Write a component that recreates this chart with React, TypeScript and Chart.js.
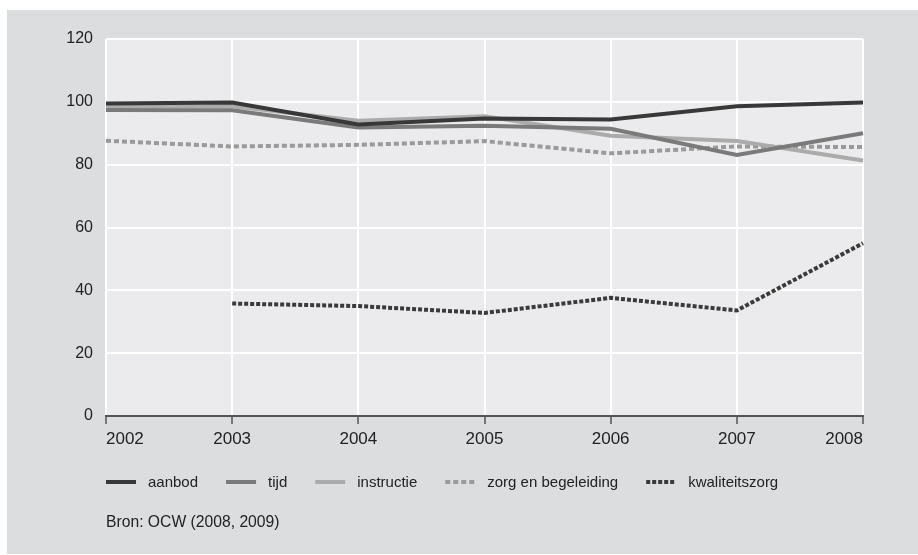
import React, { useEffect, useRef } from "react";
import { Chart, registerables } from "chart.js";

Chart.register(...registerables);

const years = ["2002", "2003", "2004", "2005", "2006", "2007", "2008"];
const aanbod = [99.5, 99.8, 92.8, 94.7, 94.4, 98.6, 99.8];
const tijd = [97.4, 97.3, 91.8, 92.4, 91.4, 83.1, 90.0];
const instructie = [98.7, 98.6, 94.0, 95.4, 89.2, 87.5, 81.3];
const zorgEnBegeleiding = [87.6, 85.8, 86.3, 87.5, 83.6, 85.8, 85.6];
const kwaliteitszorg = [null, 35.8, 35.0, 32.8, 37.6, 33.6, 55.0];
const yTicks = [0, 20, 40, 60, 80, 100, 120];
const sourceText = "Bron: OCW (2008, 2009)";

const FONT = "'Liberation Sans', Arial, sans-serif";

const bgPlugin = {
  id: "plotBg",
  beforeDraw(chart: any) {
    const { ctx, chartArea } = chart;
    ctx.save();
    ctx.fillStyle = "#ebebed";
    ctx.fillRect(chartArea.left, chartArea.top, chartArea.right - chartArea.left, chartArea.bottom - chartArea.top);
    ctx.restore();
  },
};

const legendPlugin = {
  id: "customLegend",
  afterDraw(chart: any) {
    const { ctx, chartArea } = chart;
    ctx.save();
    ctx.font = `15px ${FONT}`;
    ctx.textBaseline = "alphabetic";
    let x = chartArea.left;
    const lineY = 472;
    const textY = 477;
    chart.data.datasets.forEach((ds: any) => {
      ctx.strokeStyle = ds.borderColor;
      ctx.lineWidth = ds.borderWidth;
      ctx.setLineDash(ds.borderDash || []);
      ctx.lineCap = "butt";
      ctx.beginPath();
      ctx.moveTo(x, lineY);
      ctx.lineTo(x + 30, lineY);
      ctx.stroke();
      ctx.setLineDash([]);
      ctx.fillStyle = "#222";
      ctx.fillText(ds.label, x + 42, textY);
      x += 42 + ctx.measureText(ds.label).width + 28;
    });
    ctx.fillStyle = "#222";
    ctx.font = `15.7px ${FONT}`;
    ctx.fillText(sourceText, chartArea.left, 517);
    ctx.restore();
  },
};

export default function App() {
  const ref = useRef<HTMLCanvasElement>(null);
  useEffect(() => {
    if (!ref.current) return;
    const mk = (label: string, data: any[], color: string, dash?: number[]) => ({
      label,
      data,
      borderColor: color,
      backgroundColor: color,
      borderWidth: 4,
      borderDash: dash,
      pointRadius: 0,
      tension: 0,
      fill: false,
      spanGaps: false,
    });
    const chart = new Chart(ref.current, {
      type: "line",
      data: {
        labels: years,
        datasets: [
          mk("aanbod", aanbod, "#383838"),
          mk("tijd", tijd, "#7a7a7a"),
          mk("instructie", instructie, "#ababab"),
          mk("zorg en begeleiding", zorgEnBegeleiding, "#9a9a9a", [5, 3]),
          mk("kwaliteitszorg", kwaliteitszorg, "#3a3a3a", [4, 2]),
        ],
      },
      options: {
        animation: false,
        responsive: false,
        maintainAspectRatio: false,
        layout: { padding: { left: 39, right: 55, top: 29, bottom: 98 } },
        plugins: { legend: { display: false }, title: { display: false }, tooltip: { enabled: false } },
        scales: {
          x: {
            type: "category",
            offset: false,
            grid: { color: "#ffffff", lineWidth: 2, tickColor: "#555555", tickWidth: 1.5, tickLength: 8, drawTicks: true },
            border: { display: true, color: "#555555", width: 2 },
            ticks: { color: "#222", font: { family: FONT, size: 17 }, padding: 5, align: "inner", maxRotation: 0, autoSkip: false },
            afterFit(scale: any) { scale.height = 40; },
          },
          y: {
            min: 0,
            max: 120,
            afterBuildTicks(scale: any) { scale.ticks = yTicks.map((v) => ({ value: v })); },
            grid: { color: "#ffffff", lineWidth: 2, drawTicks: false },
            border: { display: false },
            ticks: { color: "#222", font: { family: FONT, size: 16 }, padding: 13 },
            afterFit(scale: any) { scale.width = 60; },
          },
        },
      },
      plugins: [bgPlugin, legendPlugin],
    });
    return () => chart.destroy();
  }, []);
  return (
    <div style={{ position: "fixed", left: 0, top: 0, width: 918, height: 555, background: "#ffffff" }}>
      <div style={{ position: "absolute", left: 7, top: 10, width: 911, height: 544, background: "#dcdddf" }}>
        <canvas ref={ref} width={911} height={544} style={{ width: 911, height: 544, display: "block" }} />
      </div>
    </div>
  );
}
